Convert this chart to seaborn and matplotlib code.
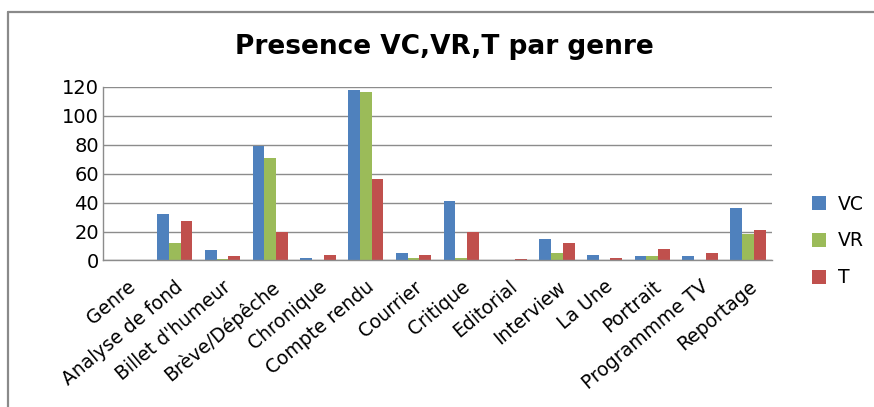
"""
Presence VC, VR, T par genre - grouped bar chart.
"""

import pandas as pd
import matplotlib.pyplot as plt
import seaborn as sns
from matplotlib.lines import Line2D

# Categories and series values
GENRES = [
    "Genre", "Analyse de fond", "Billet d'humeur", "Brève/Dépêche", "Chronique",
    "Compte rendu", "Courrier", "Critique", "Editorial", "Interview",
    "La Une", "Portrait", "Programmme TV", "Reportage",
]
VC = [0, 32, 7, 79, 2, 118, 5, 41, 0, 15, 4, 3, 3, 36]
VR = [0, 12, 1, 71, 0, 116, 2, 2, 0, 5, 0, 3, 0, 18]
T = [0, 27, 3, 20, 4, 56, 4, 20, 1, 12, 2, 8, 5, 21]

SERIES = ["VC", "VR", "T"]
COLORS = {"VC": "#4F81BD", "VR": "#9BBB59", "T": "#C0504D"}
Y_TICKS = [0, 20, 40, 60, 80, 100, 120]


def build_frame():
    records = []
    for name, values in zip(SERIES, [VC, VR, T]):
        for genre, v in zip(GENRES, values):
            records.append({"Genre": genre, "Serie": name, "Valeur": v})
    return pd.DataFrame(records)


def plot(df):
    sns.set_theme(style="white")
    plt.rcParams["font.family"] = ["DejaVu Sans"]
    plt.rcParams["text.color"] = "black"
    plt.rcParams["xtick.color"] = "black"
    plt.rcParams["ytick.color"] = "black"

    fig = plt.figure(figsize=(8.74, 4.07), dpi=100)
    ax = fig.add_axes([0.118, 0.36, 0.765, 0.427])

    sns.barplot(
        data=df, x="Genre", y="Valeur", hue="Serie", order=GENRES,
        hue_order=SERIES, palette=COLORS, saturation=1, width=0.74,
        linewidth=0, ax=ax, errorbar=None,
    )

    ax.set_ylim(0, 120)
    ax.set_yticks(Y_TICKS)
    ax.set_xlim(-0.5, len(GENRES) - 0.5)
    ax.yaxis.grid(True, color="#8c8c8c", linewidth=1)
    ax.set_axisbelow(True)
    ax.set_xlabel("")
    ax.set_ylabel("")
    ax.tick_params(axis="y", labelsize=14, length=0, pad=3)
    ax.tick_params(axis="x", labelsize=13.5, length=0, pad=12)
    plt.setp(ax.get_xticklabels(), rotation=40, ha="right", va="top",
             rotation_mode="anchor")

    for side in ["top", "right"]:
        ax.spines[side].set_visible(False)
    for side in ["left", "bottom"]:
        ax.spines[side].set_color("#8c8c8c")
        ax.spines[side].set_linewidth(1)

    handles, labels = ax.get_legend_handles_labels()
    ax.get_legend().remove()
    fig.legend(
        handles, labels, loc="center left", bbox_to_anchor=(0.91, 0.408),
        frameon=False, fontsize=13.5, handlelength=0.75, handleheight=0.75,
        labelspacing=0.95, handletextpad=0.6,
    )

    fig.text(0.509, 0.885, "Presence VC,VR,T par genre", ha="center",
             va="center", fontsize=19, fontweight="bold")

    # chart-area border (left and top only, as in the original)
    x0, y0 = 8 / 874, 1 - 12 / 407
    fig.add_artist(Line2D([x0, x0], [0, y0], transform=fig.transFigure,
                          color="#8a8a8a", linewidth=1.6))
    fig.add_artist(Line2D([x0, 1], [y0, y0], transform=fig.transFigure,
                          color="#8a8a8a", linewidth=1.6))

    fig.savefig("out.png", dpi=100)


if __name__ == "__main__":
    plot(build_frame())
